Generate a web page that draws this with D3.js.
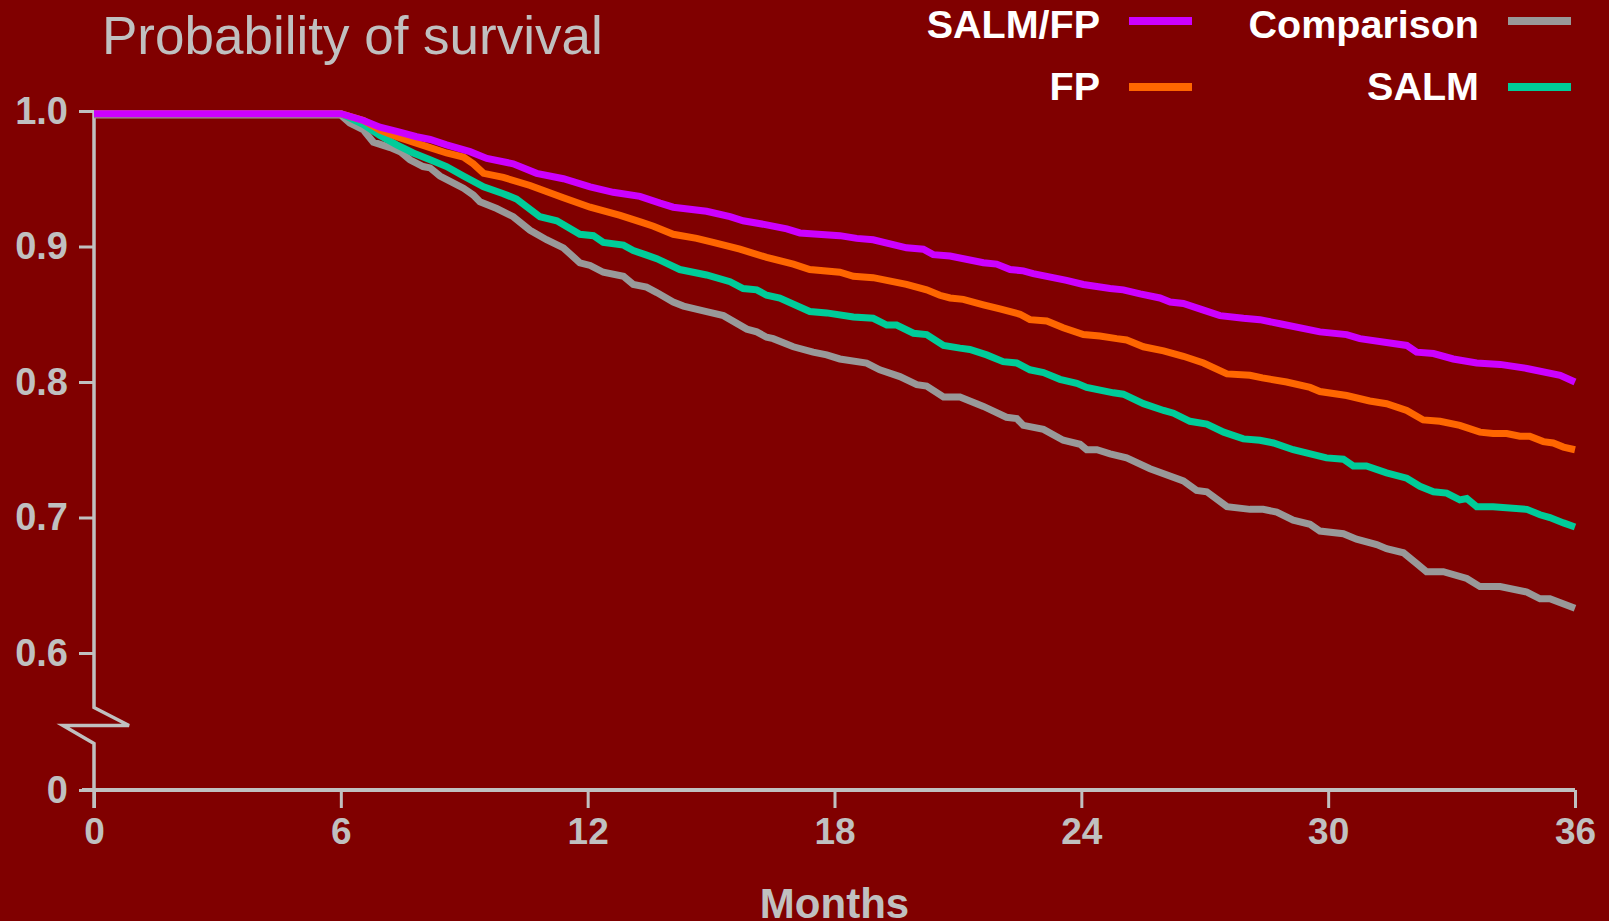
<!DOCTYPE html>
<html>
<head>
<meta charset="utf-8">
<script src="https://cdn.jsdelivr.net/npm/d3@7"></script>
<style>
  html, body { margin: 0; padding: 0; background: #800000; }
  svg { display: block; }
</style>
</head>
<body>
<svg id="chart" width="1609" height="921"></svg>
<script>
// ---------------- DATA ----------------
const seriesNames = ["SALM/FP", "FP", "Comparison", "SALM"];
const seriesColors = ["#CC00FF", "#FF6600", "#999999", "#00CC99"];
const xTickValues = [0, 6, 12, 18, 24, 30, 36];
const yTickValues = [0, 0.6, 0.7, 0.8, 0.9, 1.0];
const yTickLabels = ["0", "0.6", "0.7", "0.8", "0.9", "1.0"];

const salmfpMonths = [0, 6, 6.55, 6.95, 7.36, 7.84, 8.17, 8.57, 9.14, 9.55, 10.19, 10.76, 11.41, 12.06, 12.62, 13.27, 13.76, 14.08, 14.89, 15.46, 15.78, 16.35, 16.84, 17.16, 18.13, 18.54, 18.94, 19.75, 20.16, 20.4, 20.81, 21.62, 21.94, 22.27, 22.59, 22.83, 23.64, 24.05, 24.7, 25.02, 25.43, 25.91, 26.16, 26.48, 26.97, 27.37, 27.94, 28.34, 28.83, 29.8, 30.45, 30.77, 31.91, 32.15, 32.56, 33.04, 33.61, 34.18, 34.83, 35.64, 36];
const salmfpSurv = [0.998, 0.998, 0.993, 0.988, 0.985, 0.981, 0.979, 0.975, 0.970, 0.965, 0.961, 0.954, 0.950, 0.944, 0.940, 0.937, 0.932, 0.929, 0.926, 0.922, 0.919, 0.916, 0.913, 0.910, 0.908, 0.906, 0.905, 0.899, 0.898, 0.894, 0.893, 0.888, 0.887, 0.883, 0.882, 0.880, 0.875, 0.872, 0.869, 0.868, 0.865, 0.862, 0.859, 0.858, 0.853, 0.849, 0.847, 0.846, 0.843, 0.837, 0.835, 0.832, 0.827, 0.822, 0.821, 0.817, 0.814, 0.813, 0.810, 0.805, 0.800];

const fpMonths = [0, 6, 6.55, 6.95, 7.36, 7.76, 8.17, 8.57, 8.98, 9.22, 9.47, 9.95, 10.6, 11.41, 12.06, 12.79, 13.3, 13.6, 14.08, 14.65, 15.05, 15.7, 16.35, 17.0, 17.4, 18.13, 18.46, 18.94, 19.75, 20.24, 20.56, 20.81, 21.13, 21.62, 22.02, 22.51, 22.75, 23.16, 23.56, 24.05, 24.45, 24.86, 25.1, 25.51, 26.0, 26.48, 26.97, 27.54, 28.1, 28.4, 28.99, 29.56, 29.8, 30.45, 31.01, 31.42, 31.91, 32.31, 32.72, 33.2, 33.69, 34.01, 34.34, 34.66, 34.9, 35.23, 35.47, 35.72, 36];
const fpSurv = [0.998, 0.998, 0.993, 0.986, 0.981, 0.977, 0.973, 0.969, 0.966, 0.961, 0.954, 0.951, 0.945, 0.936, 0.929, 0.923, 0.918, 0.915, 0.909, 0.906, 0.903, 0.898, 0.892, 0.887, 0.883, 0.881, 0.878, 0.877, 0.872, 0.868, 0.864, 0.862, 0.861, 0.857, 0.854, 0.850, 0.846, 0.845, 0.840, 0.835, 0.834, 0.832, 0.831, 0.826, 0.823, 0.819, 0.814, 0.806, 0.805, 0.803, 0.800, 0.796, 0.793, 0.790, 0.786, 0.784, 0.779, 0.772, 0.771, 0.768, 0.763, 0.762, 0.762, 0.760, 0.760, 0.756, 0.755, 0.752, 0.750];

const compMonths = [0, 6, 6.22, 6.55, 6.79, 7.2, 7.44, 7.68, 8.0, 8.17, 8.41, 8.98, 9.22, 9.38, 9.79, 10.19, 10.6, 11.0, 11.41, 11.81, 12.06, 12.38, 12.87, 13.11, 13.43, 13.68, 14.08, 14.33, 14.89, 15.3, 15.87, 16.11, 16.35, 16.51, 17.0, 17.48, 17.81, 18.13, 18.78, 19.1, 19.59, 20.0, 20.24, 20.65, 21.05, 21.62, 22.18, 22.43, 22.59, 23.08, 23.56, 23.97, 24.13, 24.38, 24.7, 25.1, 25.67, 26.48, 26.8, 27.05, 27.54, 28.1, 28.42, 28.75, 29.15, 29.56, 29.8, 30.37, 30.69, 31.18, 31.42, 31.83, 32.15, 32.39, 32.8, 33.37, 33.69, 34.18, 34.83, 35.15, 35.39, 36];
const compSurv = [0.997, 0.997, 0.991, 0.986, 0.977, 0.973, 0.970, 0.964, 0.959, 0.958, 0.952, 0.943, 0.938, 0.933, 0.928, 0.922, 0.912, 0.905, 0.899, 0.888, 0.886, 0.881, 0.878, 0.872, 0.870, 0.866, 0.859, 0.856, 0.852, 0.849, 0.839, 0.837, 0.833, 0.832, 0.826, 0.822, 0.820, 0.817, 0.814, 0.809, 0.804, 0.798, 0.797, 0.789, 0.789, 0.782, 0.774, 0.773, 0.768, 0.765, 0.757, 0.754, 0.750, 0.750, 0.747, 0.744, 0.736, 0.727, 0.720, 0.719, 0.708, 0.706, 0.706, 0.704, 0.698, 0.695, 0.690, 0.688, 0.684, 0.680, 0.677, 0.674, 0.666, 0.660, 0.660, 0.655, 0.649, 0.649, 0.645, 0.640, 0.640, 0.633];

const salmMonths = [0, 6, 6.55, 6.95, 7.36, 7.76, 8.17, 8.57, 8.98, 9.47, 9.95, 10.27, 10.84, 11.25, 11.81, 12.14, 12.38, 12.87, 13.11, 13.4, 13.68, 14.24, 14.89, 15.46, 15.78, 16.11, 16.35, 16.67, 17.4, 17.81, 18.46, 18.94, 19.27, 19.51, 19.92, 20.24, 20.65, 21.05, 21.29, 21.7, 22.1, 22.43, 22.75, 23.08, 23.48, 23.89, 24.13, 24.78, 25.02, 25.51, 26.0, 26.24, 26.64, 27.05, 27.46, 27.94, 28.34, 28.67, 29.15, 29.96, 30.37, 30.61, 30.93, 31.42, 31.91, 32.23, 32.56, 32.88, 33.2, 33.37, 33.61, 34.01, 34.83, 35.15, 35.39, 35.72, 36];
const salmSurv = [0.998, 0.998, 0.990, 0.982, 0.975, 0.969, 0.964, 0.959, 0.952, 0.944, 0.939, 0.935, 0.922, 0.919, 0.909, 0.908, 0.903, 0.901, 0.897, 0.894, 0.891, 0.883, 0.879, 0.874, 0.869, 0.868, 0.864, 0.862, 0.852, 0.851, 0.848, 0.847, 0.842, 0.842, 0.836, 0.835, 0.827, 0.825, 0.824, 0.820, 0.815, 0.814, 0.809, 0.807, 0.802, 0.799, 0.796, 0.792, 0.791, 0.784, 0.779, 0.777, 0.771, 0.769, 0.763, 0.758, 0.757, 0.755, 0.750, 0.744, 0.743, 0.738, 0.738, 0.733, 0.729, 0.723, 0.719, 0.718, 0.713, 0.714, 0.708, 0.708, 0.706, 0.702, 0.700, 0.696, 0.693];

// ---------------- CHART ----------------
const svg = d3.select("#chart");
const W = 1609, H = 921;
const axisColor = "#C0C0C0";
const font = "'Liberation Sans', Arial, Helvetica, sans-serif";

svg.append("rect").attr("width", W).attr("height", H).attr("fill", "#800000");

const x = d3.scaleLinear().domain([0, 36]).range([94, 1575]);
// broken y axis: 0 .. (break) .. 0.6 .. 1.0
const y = d3.scaleLinear().domain([0, 0.6, 1.0]).range([790, 653, 111]);

// Title
svg.append("text")
  .attr("x", 102).attr("y", 54)
  .attr("font-family", font).attr("font-size", 53)
  .attr("fill", axisColor)
  .text("Probability of survival");

// Y axis (custom domain with break)
const yAxisG = svg.append("g").attr("transform", `translate(${x(0)},0)`);
yAxisG.call(d3.axisLeft(y).tickValues(yTickValues).tickSize(15).tickPadding(11)
  .tickFormat((d, i) => yTickLabels[i]));
yAxisG.select(".domain").remove();
yAxisG.selectAll(".tick line").attr("stroke", axisColor).attr("stroke-width", 3);
yAxisG.selectAll(".tick text")
  .attr("fill", axisColor).attr("font-family", font)
  .attr("font-size", 38).attr("font-weight", "bold");

const x0 = x(0);
const brkMid = (y(0.6) + y(0)) / 2 + 4;
const brkPath = [
  [x0, y(1.0)], [x0, brkMid - 18], [x0 + 35, brkMid], [x0 - 31, brkMid],
  [x0, brkMid + 18], [x0, y(0) + 18]
];
svg.append("path")
  .attr("d", d3.line()(brkPath))
  .attr("fill", "none").attr("stroke", axisColor).attr("stroke-width", 3.5)
  .attr("stroke-linejoin", "miter");

// X axis
const xAxisG = svg.append("g").attr("transform", `translate(0,${y(0)})`);
xAxisG.call(d3.axisBottom(x).tickValues(xTickValues).tickSize(18).tickPadding(10)
  .tickFormat(d3.format("d")));
xAxisG.select(".domain").remove();
xAxisG.selectAll(".tick line").attr("stroke", axisColor).attr("stroke-width", 3);
xAxisG.selectAll(".tick text")
  .attr("fill", axisColor).attr("font-family", font)
  .attr("font-size", 37).attr("font-weight", "bold");
svg.append("line")
  .attr("x1", x0 - 12).attr("x2", x(36))
  .attr("y1", y(0)).attr("y2", y(0))
  .attr("stroke", axisColor).attr("stroke-width", 4);

// X axis title
svg.append("text")
  .attr("x", (x(0) + x(36)) / 2).attr("y", 918)
  .attr("text-anchor", "middle")
  .attr("font-family", font).attr("font-size", 42).attr("font-weight", "bold")
  .attr("fill", axisColor)
  .text("Months");

// Lines
const seriesData = [
  { name: "Comparison", months: compMonths, surv: compSurv, color: seriesColors[2] },
  { name: "SALM", months: salmMonths, surv: salmSurv, color: seriesColors[3] },
  { name: "FP", months: fpMonths, surv: fpSurv, color: seriesColors[1] },
  { name: "SALM/FP", months: salmfpMonths, surv: salmfpSurv, color: seriesColors[0] }
];
const line = d3.line().x(d => x(d[0])).y(d => y(d[1]));
svg.append("g").selectAll("path")
  .data(seriesData)
  .join("path")
  .attr("d", d => line(d.months.map((m, i) => [m, d.surv[i]])))
  .attr("fill", "none")
  .attr("stroke", d => d.color)
  .attr("stroke-width", 7)
  .attr("stroke-linejoin", "miter");

// Legend
const legendItems = [
  { name: seriesNames[0], color: seriesColors[0], tx: 1100, ty: 38, ly: 21 },
  { name: seriesNames[1], color: seriesColors[1], tx: 1100, ty: 100, ly: 87 },
  { name: seriesNames[2], color: seriesColors[2], tx: 1479, ty: 38, ly: 21 },
  { name: seriesNames[3], color: seriesColors[3], tx: 1479, ty: 100, ly: 87 }
];
const lg = svg.append("g").selectAll("g").data(legendItems).join("g");
lg.append("text")
  .attr("x", d => d.tx).attr("y", d => d.ty)
  .attr("text-anchor", "end")
  .attr("font-family", font).attr("font-size", 39.5).attr("font-weight", "bold")
  .attr("fill", "#FFFFFF")
  .text(d => d.name);
lg.append("line")
  .attr("x1", d => d.tx + 29).attr("x2", d => d.tx + 92)
  .attr("y1", d => d.ly).attr("y2", d => d.ly)
  .attr("stroke", d => d.color).attr("stroke-width", 8);
</script>
</body>
</html>
